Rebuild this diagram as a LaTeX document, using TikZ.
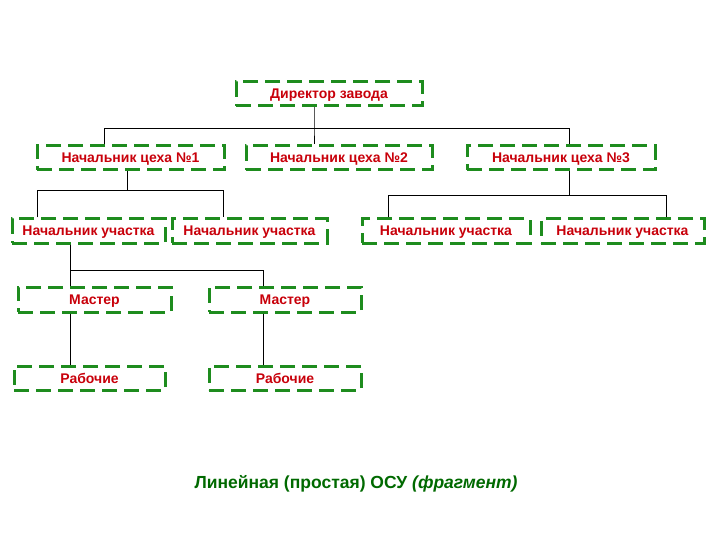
\documentclass[tikz,border=0pt]{standalone}
\usepackage{fontspec}
\setmainfont{Liberation Sans}
\definecolor{boxgreen}{RGB}{30,140,30}
\definecolor{txtred}{RGB}{200,0,10}
\definecolor{capgreen}{RGB}{0,105,0}
\begin{document}
\begin{tikzpicture}[x=1pt,y=-1pt,
 unit/.style={draw=boxgreen,line width=3pt,dash pattern=on 15pt off 7pt,
  inner sep=0pt,minimum height=24pt,text height=10pt,text depth=0pt,text=txtred,
  font=\fontsize{14}{16}\selectfont\bfseries},
 link/.style={black,line width=0.9pt}]
 \useasboundingbox (0,0) rectangle (720,540);
 \node[unit,minimum width=186pt] (dir) at (329,94) {Директор завода};
 \node[unit,minimum width=187pt] (c1) at (130.5,158) {Начальник цеха №1};
 \node[unit,minimum width=186pt] (c2) at (339,158) {Начальник цеха №2};
 \node[unit,minimum width=188pt] (c3) at (561,158) {Начальник цеха №3};
 \node[unit,minimum width=153pt] (u1) at (88.5,231) {Начальник участка};
 \node[unit,minimum width=155pt] (u2) at (249.5,231) {Начальник участка};
 \node[unit,minimum width=168pt] (u3) at (446,231) {Начальник участка};
 \node[unit,minimum width=163pt] (u4) at (622.5,231) {Начальник участка};
 \node[unit,minimum width=153pt,minimum height=25pt] (m1) at (94.5,299.5) {Мастер};
 \node[unit,minimum width=152pt,minimum height=25pt] (m2) at (285,299.5) {Мастер};
 \node[unit,minimum width=151pt] (r1) at (89.5,378) {Рабочие};
 \node[unit,minimum width=152pt] (r2) at (285,378) {Рабочие};
 \node[text=capgreen,font=\fontsize{17.5}{20}\selectfont\bfseries] (cap) at (356,484)
  {Линейная (простая) ОСУ \textit{(фрагмент)}};
 \coordinate (t1) at (104,128);
 \coordinate (t2) at (314,128);
 \coordinate (t3) at (569,128);
 \coordinate (s1) at (127,190);
 \coordinate (s1a) at (37,190);
 \coordinate (s1b) at (223,190);
 \coordinate (s3) at (569,195);
 \coordinate (s3a) at (388,195);
 \coordinate (s3b) at (666,195);
 \coordinate (k1) at (70,270);
 \coordinate (k2) at (263,270);
 \draw[link] (dir.south -| t2) -- (t2) -- (c2.north -| t2);
 \draw[link] (c1.north -| t1) -- (t1) -- (t3) -- (c3.north -| t3);
 \draw[link] (c1.south -| s1) -- (s1);
 \draw[link] (u1.north -| s1a) -- (s1a) -- (s1b) -- (u2.north -| s1b);
 \draw[link] (c3.south -| s3) -- (s3);
 \draw[link] (u3.north -| s3a) -- (s3a) -- (s3b) -- (u4.north -| s3b);
 \draw[link] (u1.south -| k1) -- (m1.north -| k1);
 \draw[link] (k1) -- (k2) -- (m2.north -| k2);
 \draw[link] (m1.south -| k1) -- (r1.north -| k1);
 \draw[link] (m2.south -| k2) -- (r2.north -| k2);
\end{tikzpicture}
\end{document}
